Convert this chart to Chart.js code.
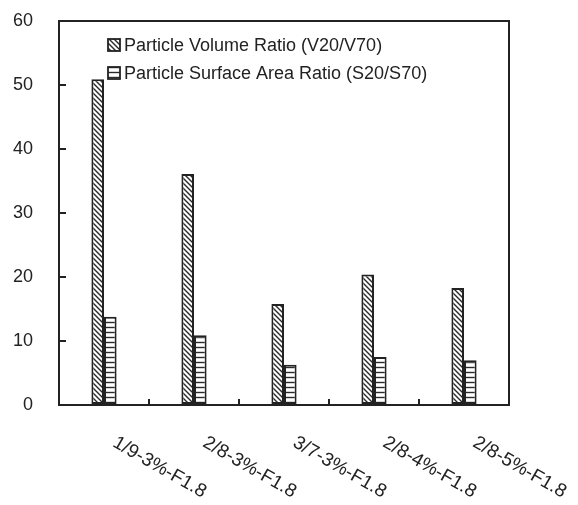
<!DOCTYPE html>
<html>
<head>
<meta charset="utf-8">
<script src="https://cdn.jsdelivr.net/npm/chart.js@4/dist/chart.umd.min.js"></script>
<style>
  body { margin: 0; background: #fff; }
  canvas { display: block; }
</style>
</head>
<body>
<canvas id="chart" width="578" height="505"></canvas>
<script>
// Data
const categories = ["1/9-3%-F1.8", "2/8-3%-F1.8", "3/7-3%-F1.8", "2/8-4%-F1.8", "2/8-5%-F1.8"];
const volumeRatio = [50.9, 36.1, 15.8, 20.4, 18.3];
const surfaceRatio = [13.8, 10.9, 6.3, 7.5, 7.0];
const seriesNames = ["Particle Volume Ratio (V20/V70)", "Particle Surface Area Ratio (S20/S70)"];
const yTicks = [0, 10, 20, 30, 40, 50, 60];

const FONT = "Liberation Sans, Arial, sans-serif";
const INK = "#222";

// hatch fills
function makePattern(kind) {
  const s = 5;
  const c = document.createElement("canvas");
  c.width = s; c.height = s;
  const g = c.getContext("2d");
  g.fillStyle = "#fff";
  g.fillRect(0, 0, s, s);
  g.strokeStyle = "#2a2a2a";
  g.lineWidth = 1.4;
  g.beginPath();
  if (kind === "diag") {
    g.moveTo(0, 0); g.lineTo(s, s);
    g.moveTo(-1, s - 1); g.lineTo(1, s + 1);
    g.moveTo(s - 1, -1); g.lineTo(s + 1, 1);
  } else {
    g.moveTo(0, 2.5); g.lineTo(s, 2.5);
  }
  g.stroke();
  return g.createPattern(c, "repeat");
}
const diagFill = makePattern("diag");
const horizFill = makePattern("horiz");

// box, legend and slanted category labels
const decorations = {
  id: "decorations",
  afterDraw(chart) {
    const ctx = chart.ctx;
    const area = chart.chartArea;
    const x = chart.scales.x;
    ctx.save();
    ctx.strokeStyle = INK;
    ctx.lineWidth = 2;
    ctx.beginPath();
    ctx.moveTo(area.left, area.top);
    ctx.lineTo(area.right, area.top);
    ctx.lineTo(area.right, area.bottom);
    ctx.stroke();

    // legend
    ctx.font = "18px " + FONT;
    ctx.textBaseline = "middle";
    ctx.textAlign = "left";
    chart.data.datasets.forEach((ds, i) => {
      const cy = 45 + i * 28;
      ctx.fillStyle = ds.backgroundColor;
      ctx.fillRect(108, cy - 6, 12, 12);
      ctx.lineWidth = 1.8;
      ctx.strokeStyle = INK;
      ctx.strokeRect(108, cy - 6, 12, 12);
      ctx.fillStyle = INK;
      ctx.fillText(ds.label, 124, cy + 1);
    });

    // category labels rotated clockwise
    ctx.font = "19px " + FONT;
    ctx.textBaseline = "top";
    categories.forEach((lab, i) => {
      const px = x.getPixelForValue(i);
      ctx.save();
      ctx.translate(px + 15, 433);
      ctx.rotate(Math.PI / 6);
      ctx.fillStyle = INK;
      ctx.fillText(lab, 0, 0);
      ctx.restore();
    });
    ctx.restore();
  }
};

new Chart(document.getElementById("chart"), {
  type: "bar",
  data: {
    labels: categories,
    datasets: [
      {
        label: seriesNames[0],
        data: volumeRatio,
        backgroundColor: diagFill,
        borderColor: INK,
        borderWidth: 2,
        borderSkipped: false
      },
      {
        label: seriesNames[1],
        data: surfaceRatio,
        backgroundColor: horizFill,
        borderColor: INK,
        borderWidth: 2,
        borderSkipped: false
      }
    ]
  },
  options: {
    responsive: false,
    animation: false,
    datasets: { bar: { categoryPercentage: 0.28, barPercentage: 1.0 } },
    layout: { padding: { top: 21, right: 69, left: 0, bottom: 0 } },
    plugins: { legend: { display: false }, tooltip: { enabled: false } },
    scales: {
      x: {
        offset: true,
        grid: { offset: true, drawOnChartArea: false, tickLength: -6, color: INK, lineWidth: 2 },
        border: { color: INK, width: 2 },
        ticks: { display: false },
        afterFit(scale) {
          scale.height = 100;
          scale.paddingLeft = 0; scale.paddingRight = 0;
        }
      },
      y: {
        min: 0,
        max: 60,
        afterBuildTicks(scale) { scale.ticks = yTicks.map(v => ({ value: v })); },
        grid: { drawOnChartArea: false, tickLength: -7, color: INK, lineWidth: 2 },
        border: { color: INK, width: 2 },
        ticks: { color: INK, font: { family: FONT, size: 18 }, padding: 33 },
        afterFit(scale) {
          scale.width = 59;
          scale.paddingTop = 0; scale.paddingBottom = 0;
        }
      }
    }
  },
  plugins: [decorations]
});
</script>
</body>
</html>
